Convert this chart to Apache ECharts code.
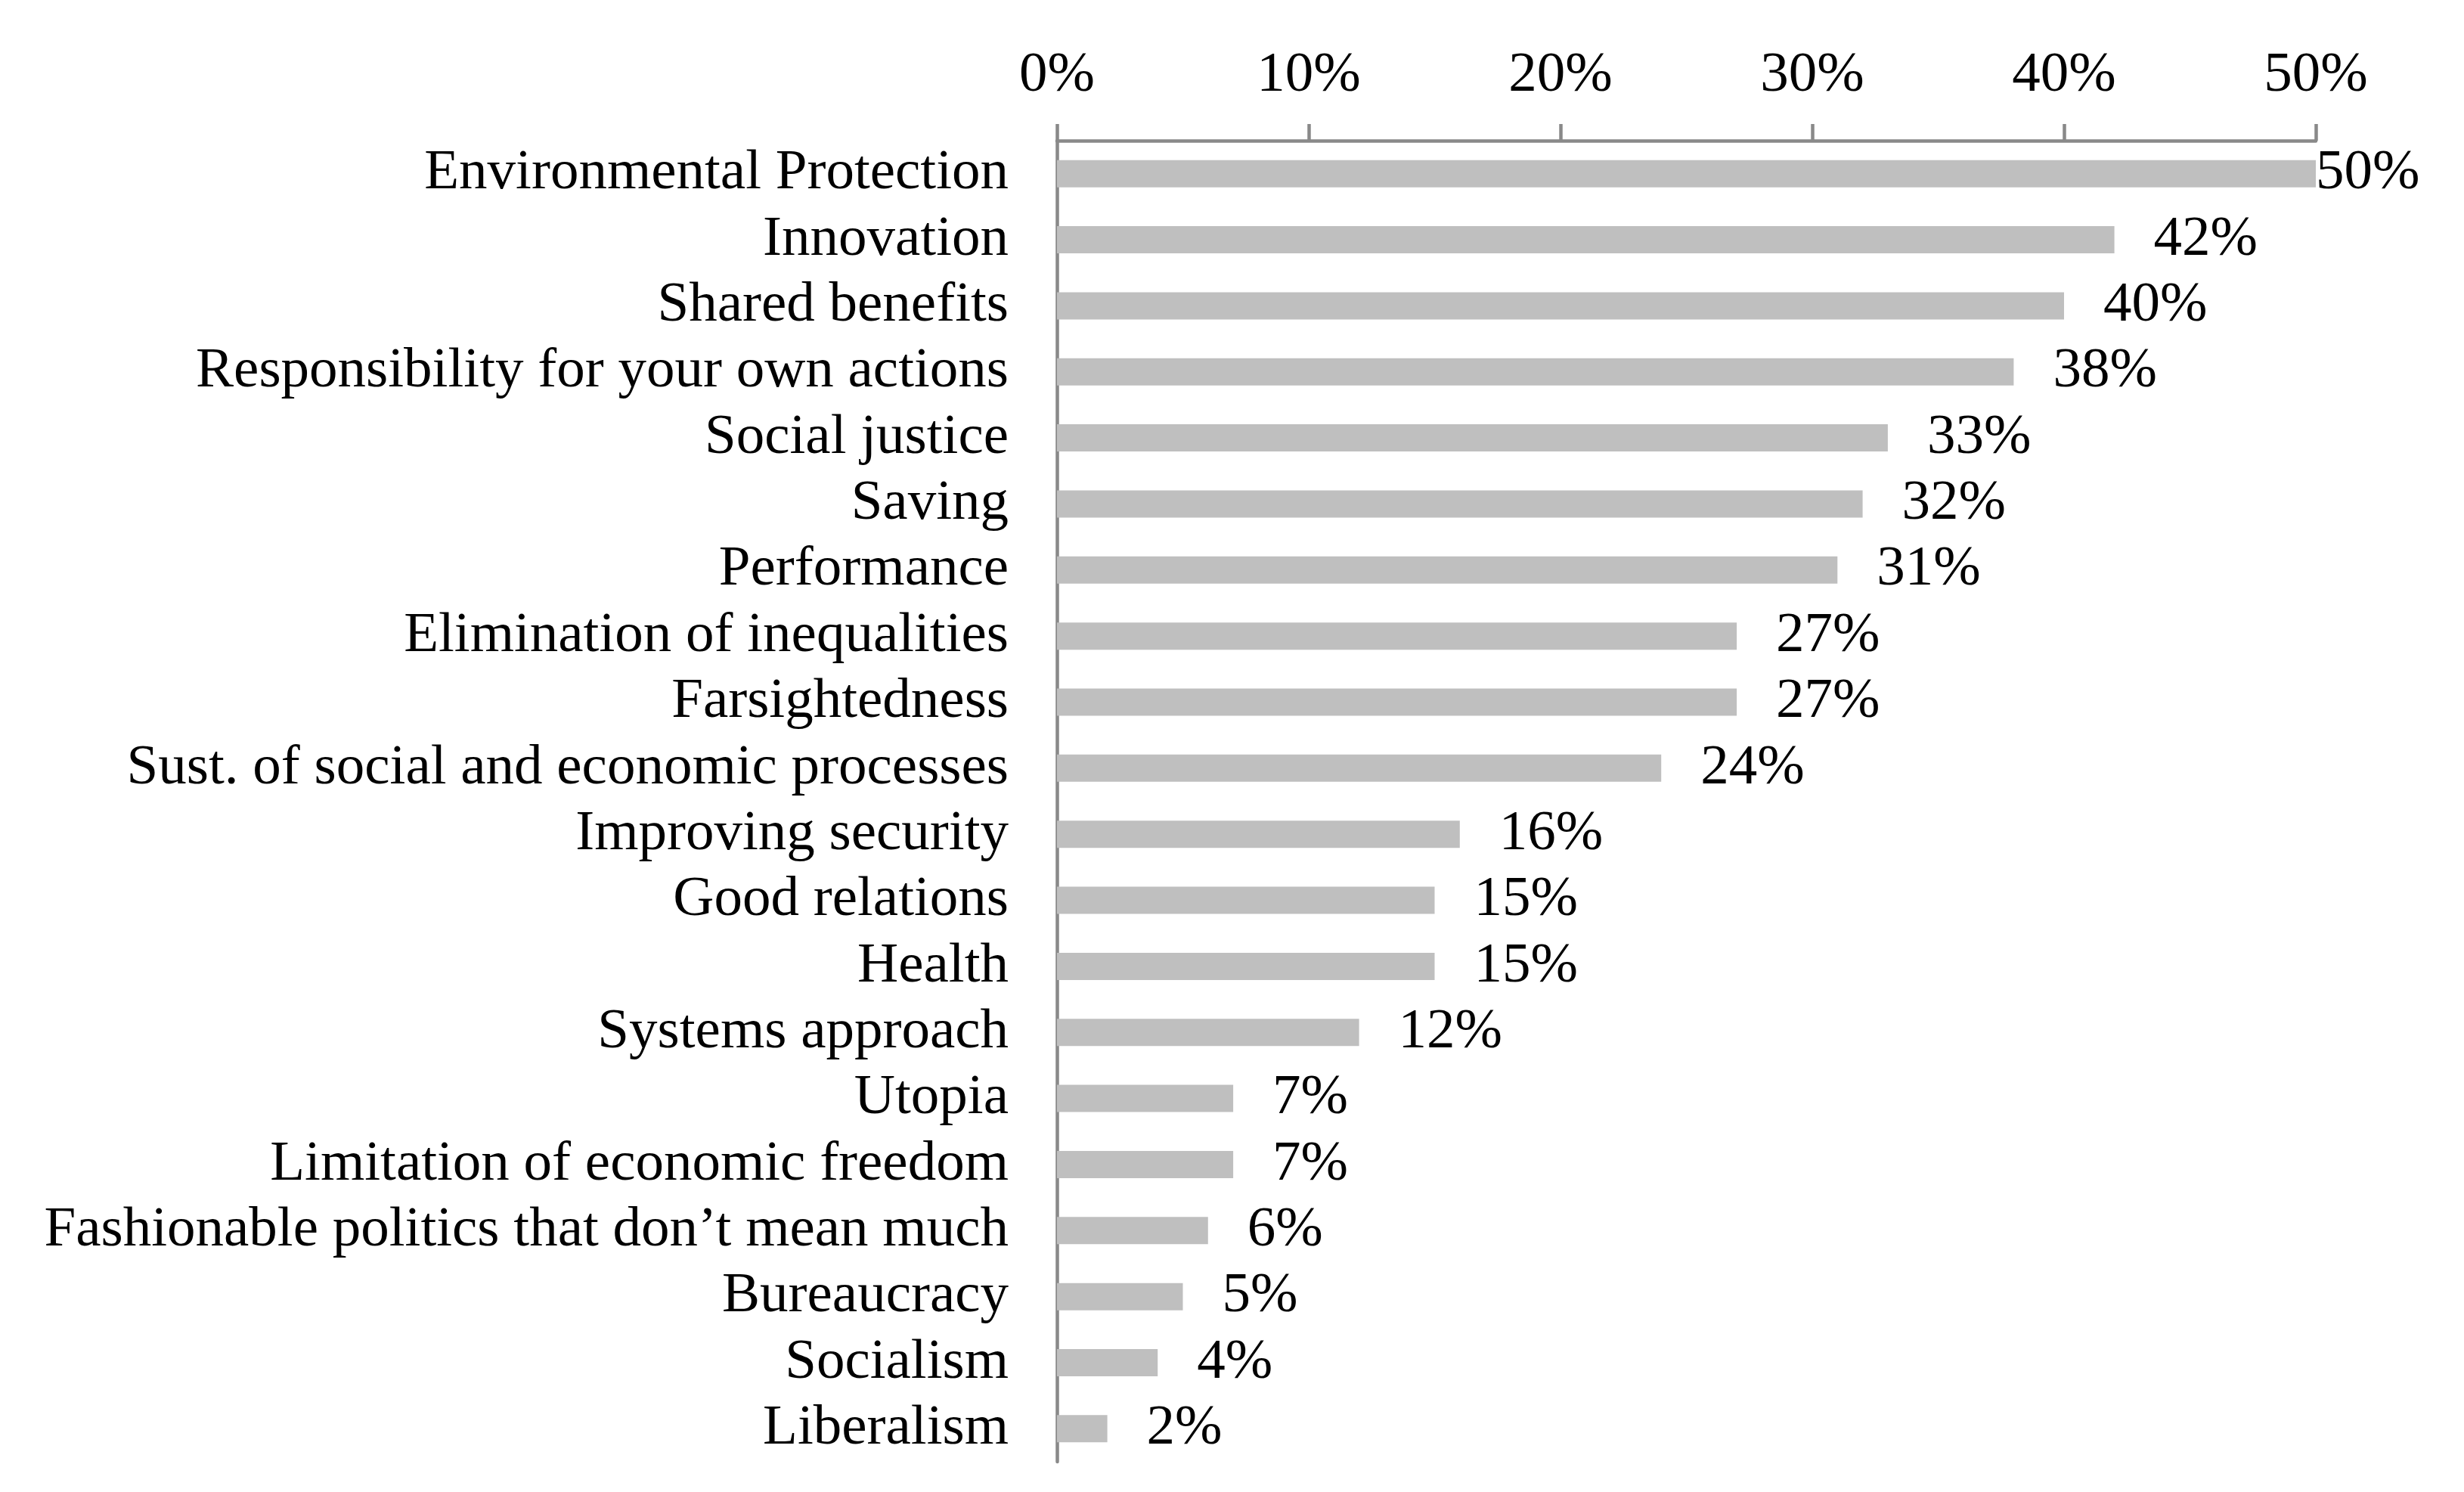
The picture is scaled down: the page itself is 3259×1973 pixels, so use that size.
<!DOCTYPE html>
<html>
<head>
<meta charset="utf-8">
<script src="https://cdn.jsdelivr.net/npm/echarts@6/dist/echarts.min.js"></script>
<style>
html,body{margin:0;padding:0;background:#fff;}
#chart{width:3259px;height:1973px;}
</style>
</head>
<body>
<div id="chart"></div>
<script>
const categories = [
  "Environmental Protection",
  "Innovation",
  "Shared benefits",
  "Responsibility for your own actions",
  "Social justice",
  "Saving",
  "Performance",
  "Elimination of inequalities",
  "Farsightedness",
  "Sust. of social and economic processes",
  "Improving security",
  "Good relations",
  "Health",
  "Systems approach",
  "Utopia",
  "Limitation of economic freedom",
  "Fashionable politics that don\u2019t mean much",
  "Bureaucracy",
  "Socialism",
  "Liberalism"
];
const values = [50, 42, 40, 38, 33, 32, 31, 27, 27, 24, 16, 15, 15, 12, 7, 7, 6, 5, 4, 2];
const xTicks = [0, 10, 20, 30, 40, 50];

const FONT = '"Liberation Serif", "Times New Roman", serif';
const FS = 75;
const axisMax = xTicks[xTicks.length - 1];

const seriesData = values.map(v => ({
  value: v,
  // label that would run past the plot edge sits right at the bar end
  label: v >= axisMax ? { distance: 0 } : undefined
}));

const chart = echarts.init(document.getElementById('chart'), null, { renderer: 'canvas' });
chart.setOption({
  animation: false,
  backgroundColor: '#ffffff',
  grid: { left: 1398, right: 196, top: 186, bottom: 40, containLabel: false },
  xAxis: {
    type: 'value',
    position: 'top',
    min: xTicks[0],
    max: axisMax,
    interval: 10,
    axisLine: { show: true, lineStyle: { color: '#898989', width: 4.5 } },
    axisTick: { show: true, inside: false, length: 22, lineStyle: { color: '#898989', width: 4.5 } },
    splitLine: { show: false },
    axisLabel: {
      formatter: '{value}%',
      color: '#000',
      fontFamily: FONT,
      fontSize: FS,
      margin: 48
    }
  },
  yAxis: {
    type: 'category',
    inverse: true,
    data: categories,
    axisLine: { show: true, lineStyle: { color: '#898989', width: 4.5 } },
    axisTick: { show: false },
    splitLine: { show: false },
    axisLabel: {
      color: '#000',
      fontFamily: FONT,
      fontSize: FS,
      margin: 64,
      interval: 0,
      padding: [8, 0, 0, 0]
    }
  },
  series: [{
    type: 'bar',
    data: seriesData,
    barWidth: 36,
    itemStyle: { color: '#bfbfbf' },
    label: {
      show: true,
      position: 'right',
      distance: 52,
      formatter: '{c}%',
      color: '#000',
      fontFamily: FONT,
      fontSize: FS,
      padding: [8, 0, 0, 0]
    }
  }]
});
</script>
</body>
</html>
